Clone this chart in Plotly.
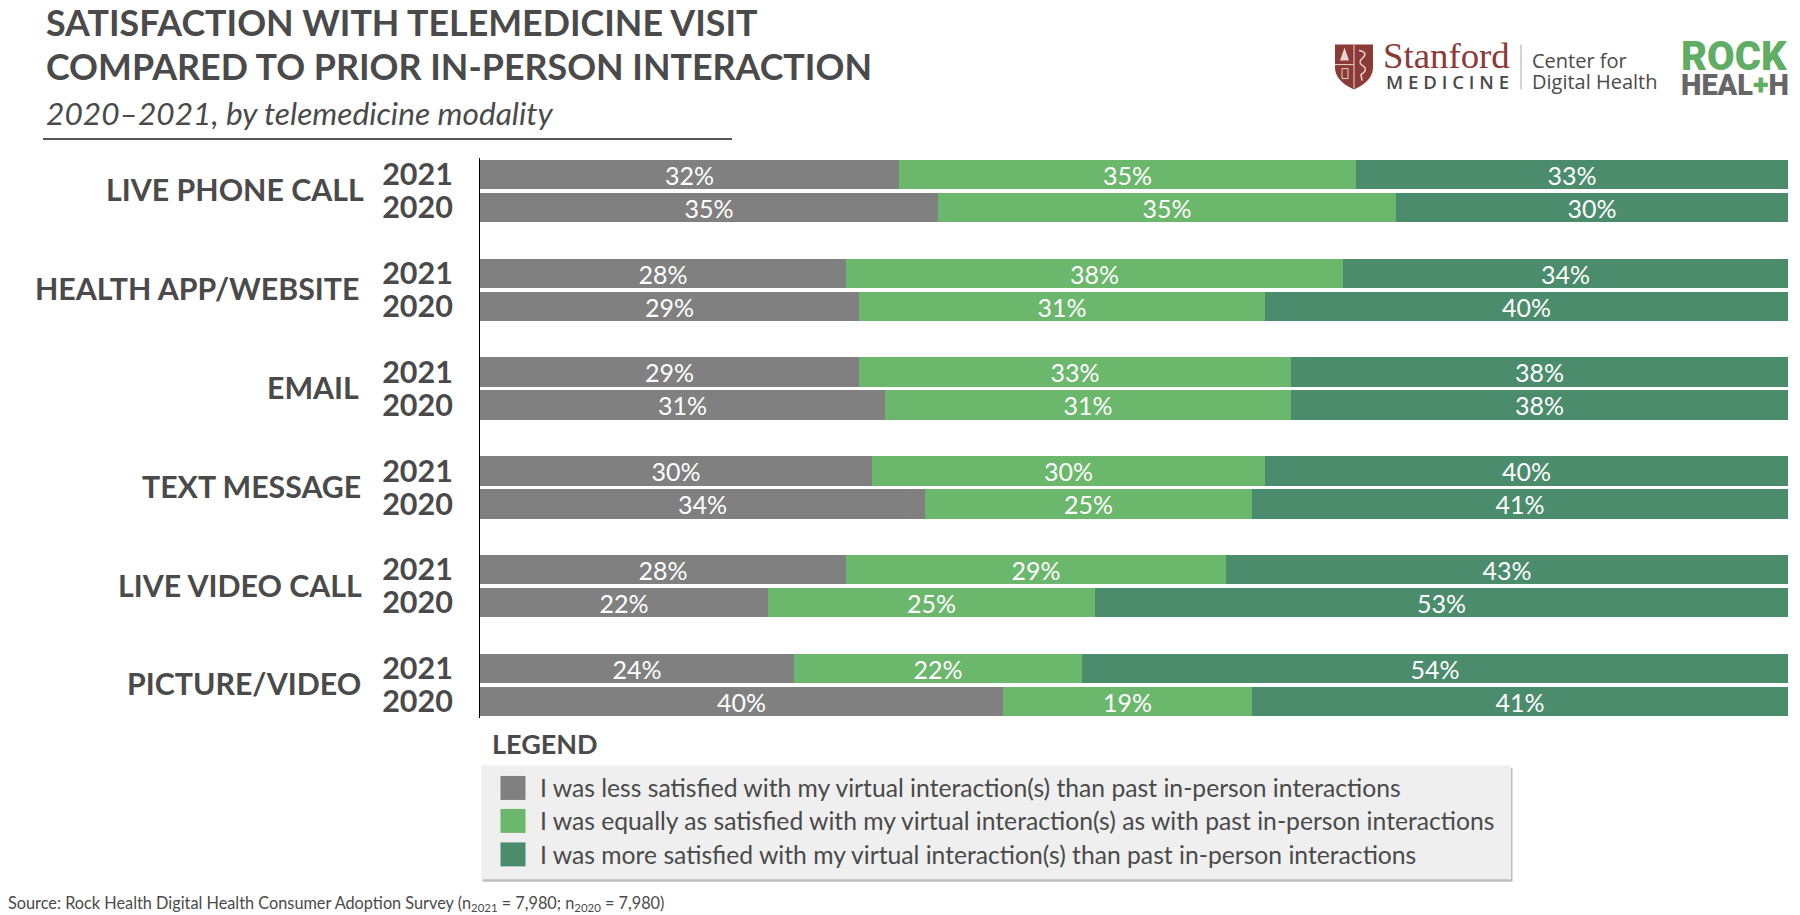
import plotly.graph_objects as go

groups = ["LIVE PHONE CALL", "HEALTH APP/WEBSITE", "EMAIL", "TEXT MESSAGE", "LIVE VIDEO CALL", "PICTURE/VIDEO"]
years = ["2021", "2020"]
less = [32, 35, 28, 29, 29, 31, 30, 34, 28, 22, 24, 40]
equal = [35, 35, 38, 31, 33, 31, 30, 25, 29, 25, 22, 19]
more = [33, 30, 34, 40, 38, 38, 40, 41, 43, 53, 54, 41]
series_names = [
    "I was less satisfied with my virtual interaction(s) than past in-person interactions",
    "I was equally as satisfied with my virtual interaction(s) as with past in-person interactions",
    "I was more satisfied with my virtual interaction(s) than past in-person interactions",
]
colors = ["#808080", "#6BB76B", "#4A8C6C"]
TXT = "#4A4A4A"

W, H = 1800, 915
L, R, T, B = 480, 1788, 157.5, 718

def px(x):
    return (x - L) / (R - L)

def py(y):
    return (B - y) / (B - T)

rows = [3 * g + j for g in range(len(groups)) for j in range(len(years))]
fig = go.Figure()
for vals, name, col in zip([less, equal, more], series_names, colors):
    fig.add_trace(go.Bar(
        y=rows, x=vals, name=name, orientation="h", width=0.89,
        marker=dict(color=col, line=dict(width=0)),
        text=[f"{v}%" for v in vals], textposition="inside", insidetextanchor="middle",
        constraintext="none", cliponaxis=False,
        textangle=0, textfont=dict(family="Lato", size=25, color="white"),
        hoverinfo="skip", showlegend=False,
    ))

def label(x, y, text, size, anchor="left", color=TXT, family="Lato", weight=None, style=None):
    f = dict(family=family, size=size, color=color)
    if weight:
        f["weight"] = weight
    if style:
        f["style"] = style
    fig.add_annotation(xref="paper", yref="paper", x=px(x), y=py(y), text=text, showarrow=False,
                       xanchor=anchor, yanchor="middle", font=f, align=anchor, borderpad=0, borderwidth=0)

def rect(x0, y0, x1, y1, color):
    fig.add_shape(type="rect", xref="paper", yref="paper", x0=px(x0), x1=px(x1), y0=py(y0), y1=py(y1),
                  fillcolor=color, line=dict(width=0), layer="above")

# Titles
label(46, 22, "SATISFACTION WITH TELEMEDICINE VISIT", 35.8, weight=700)
label(46, 66, "COMPARED TO PRIOR IN-PERSON INTERACTION", 35.8, weight=700)
label(46, 112, "2020–2021, by telemedicine modality", 31.7, style="italic")
rect(43, 137.5, 732, 139.5, "#555555")

# Group labels
label_right = [366, 361, 361, 363, 364, 363]
for g, name in enumerate(groups):
    fig.add_annotation(xref="paper", yref="y", x=px(label_right[g]), y=3 * g + 0.45, text=name, showarrow=False,
                       xanchor="right", yanchor="middle", font=dict(family="Lato", size=30.3, color=TXT, weight=700))

# Legend
label(492, 743.5, "LEGEND", 27, weight=700)
rect(482.5, 768, 1512.5, 882, "#BDBDBD")
rect(481.5, 765.5, 1511, 879.5, "#EFEFEF")
leg_y = [788, 821, 854.5]
for y, name, col in zip(leg_y, series_names, colors):
    rect(500.5, y - 12, 525.5, y + 12, col)
    label(540, y, name, 24.7)

# Source
label(8, 904, "Source: Rock Health Digital Health Consumer Adoption Survey (n<sub>2021</sub> = 7,980; n<sub>2020</sub> = 7,980)", 16.3)

# Stanford logo
X0, Y0 = 1335, 44
sx = lambda v: px(X0 + v)
sy = lambda v: py(Y0 + v)
LN = "#E6D5D3"
shield = (f"M {sx(0)} {sy(0)} L {sx(38)} {sy(0)} L {sx(38)} {sy(24)} "
          f"Q {sx(37)} {sy(37)} {sx(19)} {sy(45)} Q {sx(1)} {sy(37)} {sx(0)} {sy(24)} Z")
fig.add_shape(type="path", xref="paper", yref="paper", path=shield, fillcolor="#8C3A36", line=dict(width=0), layer="above")
fig.add_shape(type="line", xref="paper", yref="paper", x0=sx(19), x1=sx(19), y0=sy(0), y1=sy(44), line=dict(color=LN, width=1), layer="above")
fig.add_shape(type="line", xref="paper", yref="paper", x0=sx(0), x1=sx(19), y0=sy(20), y1=sy(20), line=dict(color=LN, width=1), layer="above")
tree = f"M {sx(9.5)} {sy(3)} L {sx(14)} {sy(16)} L {sx(5)} {sy(16)} Z"
fig.add_shape(type="path", xref="paper", yref="paper", path=tree, fillcolor=LN, line=dict(width=0), layer="above")
fig.add_shape(type="rect", xref="paper", yref="paper", x0=sx(7), x1=sx(13), y0=sy(24), y1=sy(34), line=dict(color=LN, width=1), layer="above")
snake = (f"M {sx(24)} {sy(6)} Q {sx(34)} {sy(8)} {sx(27)} {sy(14)} Q {sx(22)} {sy(18)} {sx(29)} {sy(22)} "
         f"Q {sx(33)} {sy(26)} {sx(26)} {sy(30)} L {sx(27)} {sy(36)}")
fig.add_shape(type="path", xref="paper", yref="paper", path=snake, line=dict(color=LN, width=1.5), layer="above")
label(1383, 55, "Stanford", 36.8, color="#8C3A36", family="Liberation Serif")
label(1386, 81, "M E D I C I N E", 18.6, color="#4A4A4A", family="Open Sans", weight=600)
rect(1520.5, 44, 1521.5, 89, "#AAAAAA")
label(1532, 60, "Center for", 20, color="#4A4A4A", family="Open Sans")
label(1532, 81, "Digital Health", 20, color="#4A4A4A", family="Open Sans")
label(1681, 56, "ROCK", 40, color="#5FAE64", family="Roboto", weight=900)
label(1681, 84.5, "HEAL<span style='color:#5FAE64'>+</span>H", 29, color="#666666", family="Roboto", weight=900)

fig.update_layout(
    width=W, height=H, autosize=False, barmode="stack", bargap=0,
    margin=dict(l=L, r=W - R, t=T, b=H - B, autoexpand=False),
    paper_bgcolor="white", plot_bgcolor="white", showlegend=False,
    xaxis=dict(range=[0, 100], visible=False, fixedrange=True),
    yaxis=dict(
        range=[16.5, -0.5], tickmode="array", tickvals=rows,
        ticktext=[years[j] for g in range(len(groups)) for j in range(len(years))],
        tickfont=dict(family="Lato", size=30.5, color=TXT, weight=700), ticks="", showgrid=False, zeroline=False,
        showline=True, linecolor="#000000", linewidth=1, ticklabelstandoff=20, fixedrange=True,
    ),
)
fig.write_html("out.html", config={"displayModeBar": False},
               post_script="document.body.style.margin='0';document.documentElement.style.overflow='hidden';")
